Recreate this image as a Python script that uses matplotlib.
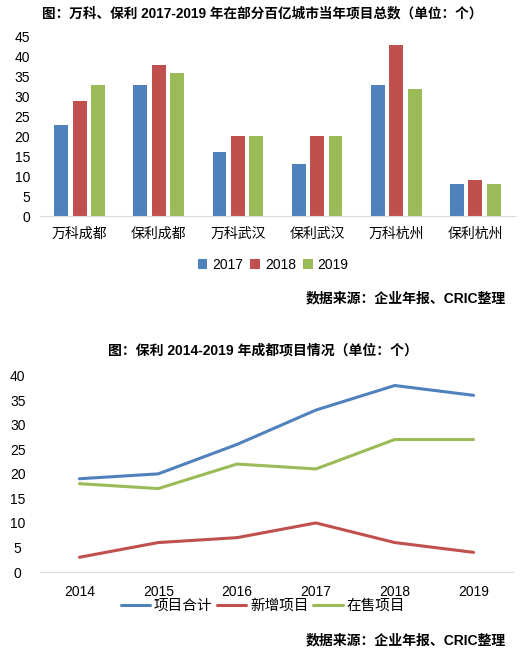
import matplotlib
matplotlib.use("Agg")
import matplotlib.pyplot as plt
import numpy as np

plt.rcParams['font.family'] = ['Liberation Sans', 'Noto Sans CJK SC', 'DejaVu Sans']

# ---- data: bar chart ----
cities = ['万科成都', '保利成都', '万科武汉', '保利武汉', '万科杭州', '保利杭州']
years_bar = ['2017', '2018', '2019']
v2017 = [23, 33, 16, 13, 33, 8]
v2018 = [29, 38, 20, 20, 43, 9]
v2019 = [33, 36, 20, 20, 32, 8]
bar_yticks = [0, 5, 10, 15, 20, 25, 30, 35, 40, 45]

# ---- data: line chart ----
years_line = ['2014', '2015', '2016', '2017', '2018', '2019']
total = [19, 20, 26, 33, 38, 36]
new_proj = [3, 6, 7, 10, 6, 4]
on_sale = [18, 17, 22, 21, 27, 27]
line_names = ['项目合计', '新增项目', '在售项目']
line_yticks = [0, 5, 10, 15, 20, 25, 30, 35, 40]

colors = ['#4F81BD', '#C0504D', '#9BBB59']
W, H = 523, 653
fig = plt.figure(figsize=(W / 100, H / 100), dpi=100)

def fx(px):
    return px / W

def fy(py):
    return 1 - py / H

# ---- top chart ----
ax1 = fig.add_axes([fx(40), fy(216), fx(515 - 40), (216 - 37) / H])
x = np.arange(len(cities))
bw = 0.175
off = 0.232
for i, (vals, c, lab) in enumerate(zip([v2017, v2018, v2019], colors, years_bar)):
    ax1.bar(x + (i - 1) * off, vals, width=bw, color=c, label=lab)
ax1.set_xlim(-0.5, len(cities) - 0.5)
ax1.set_ylim(0, 45)
ax1.set_yticks(bar_yticks)
ax1.set_xticks(x)
ax1.set_xticklabels(cities, fontsize=10)
for s in ['top', 'right', 'left']:
    ax1.spines[s].set_visible(False)
ax1.spines['bottom'].set_color('#D9D9D9')
ax1.tick_params(axis='both', length=0, labelsize=10)
ax1.tick_params(axis='x', pad=8)
ax1.tick_params(axis='y', pad=7)
fig.text(fx(262), fy(13), '图：万科、保利 2017-2019 年在部分百亿城市当年项目总数（单位：个）',
         ha='center', va='center', fontsize=9.8, fontweight='bold')
fig.legend(*ax1.get_legend_handles_labels(), loc='center', bbox_to_anchor=(fx(273), fy(265)),
           ncol=3, frameon=False, fontsize=10, handlelength=0.7, handleheight=0.7,
           handletextpad=0.35, columnspacing=0.5)
fig.text(fx(506), fy(298), '数据来源：企业年报、CRIC整理', ha='right', va='center',
         fontsize=10, fontweight='bold')

# ---- bottom chart ----
ax2 = fig.add_axes([fx(40), fy(572), fx(513 - 40), (572 - 375.7) / H])
xl = np.arange(len(years_line))
for vals, c, lab in zip([total, new_proj, on_sale], colors, line_names):
    ax2.plot(xl, vals, color=c, lw=2.2, label=lab, solid_capstyle='round')
ax2.set_xlim(-0.5, len(years_line) - 0.5)
ax2.set_ylim(0, 40)
ax2.set_yticks(line_yticks)
ax2.set_xticks(xl)
ax2.set_xticklabels(years_line, fontsize=10)
for s in ['top', 'right', 'left']:
    ax2.spines[s].set_visible(False)
ax2.spines['bottom'].set_color('#D9D9D9')
ax2.tick_params(axis='both', length=0, labelsize=10)
ax2.tick_params(axis='x', pad=9)
ax2.tick_params(axis='y', pad=16)
for lbl in ax2.get_yticklabels():
    lbl.set_horizontalalignment('center')
fig.text(fx(263), fy(350), '图：保利 2014-2019 年成都项目情况（单位：个）',
         ha='center', va='center', fontsize=10, fontweight='bold')
fig.legend(*ax2.get_legend_handles_labels(), loc='center', bbox_to_anchor=(fx(263), fy(606)),
           ncol=3, frameon=False, fontsize=10.5, handlelength=2.0,
           handletextpad=0.3, columnspacing=0.3)
fig.text(fx(506), fy(640), '数据来源：企业年报、CRIC整理', ha='right', va='center',
         fontsize=10, fontweight='bold')

fig.savefig('out.png', dpi=100)
